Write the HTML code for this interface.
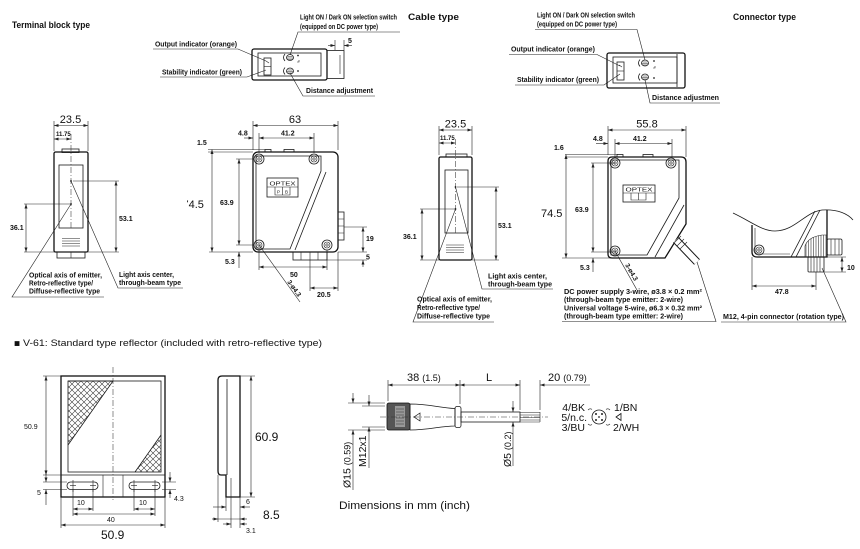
<!DOCTYPE html>
<html><head><meta charset="utf-8">
<style>
html,body{margin:0;padding:0;background:#fff;width:860px;height:549px;overflow:hidden}
svg{display:block}
text{font-family:"Liberation Sans",Arial,sans-serif;fill:#111}
.s{font-size:7px}
.sb{font-size:7px;font-weight:bold}
.m{font-size:11px}
.d{stroke:#222;stroke-width:.6;fill:none}
.o{stroke:#111;stroke-width:1.3;fill:none}
.n{stroke:#1a1a1a;stroke-width:.8;fill:none}
.cl{stroke:#333;stroke-width:.55;fill:none;stroke-dasharray:6,2,1,2}
</style></head><body>
<svg width="860" height="549" viewBox="0 0 860 549" xmlns="http://www.w3.org/2000/svg">
<defs>
<marker id="a" viewBox="0 0 6 4" refX="6" refY="2" markerWidth="5" markerHeight="3" markerUnits="userSpaceOnUse" orient="auto-start-reverse"><path d="M0,0L6,2L0,4z" fill="#222"/></marker>
<pattern id="hx" width="6" height="6" patternUnits="userSpaceOnUse"><path d="M0,0L6,6M6,0L0,6" stroke="#333" stroke-width="0.55"/></pattern>
<pattern id="vh" width="2.5" height="4" patternUnits="userSpaceOnUse"><path d="M1,0V4" stroke="#333" stroke-width="0.6"/></pattern>
<clipPath id="c1"><rect x="187" y="190" width="30" height="25"/></clipPath>
<clipPath id="t1"><path d="M68,381L113,381L68,445Z"/></clipPath>
<clipPath id="t2"><path d="M161,435L161,472L135,472Z"/></clipPath>
</defs>

<!-- ================= TERMINAL BLOCK TYPE ================= -->
<text x="12" y="28" font-size="9" font-weight="bold" textLength="78" lengthAdjust="spacingAndGlyphs">Terminal block type</text>
<text x="300" y="19.5" class="sb" textLength="97" lengthAdjust="spacingAndGlyphs">Light ON / Dark ON selection switch</text>
<text x="300" y="29" class="sb" textLength="78" lengthAdjust="spacingAndGlyphs">(equipped on DC power type)</text>
<polyline class="d" points="400,32 298,32 290,55"/>
<text x="155" y="46.5" class="sb" textLength="82" lengthAdjust="spacingAndGlyphs">Output indicator (orange)</text>
<polyline class="d" points="153,49 238,49 266,61"/>
<text x="162" y="74.5" class="sb" textLength="80" lengthAdjust="spacingAndGlyphs">Stability indicator (green)</text>
<polyline class="d" points="160,77 247,77 266,70"/>
<text x="306" y="93" class="sb" textLength="67" lengthAdjust="spacingAndGlyphs">Distance adjustment</text>
<polyline class="d" points="375,96 303,96 290,73"/>
<!-- top device -->
<rect x="252" y="49" width="75" height="31" rx="2" class="o"/>
<rect x="327" y="50.5" width="17" height="28" class="n"/>
<line x1="340" y1="55" x2="340" y2="74" class="d"/>
<rect x="258" y="53" width="63" height="23" class="n"/>
<rect x="264" y="58" width="7" height="17" class="n"/>
<line x1="264" y1="66.5" x2="271" y2="66.5" class="d"/>
<line x1="266" y1="61" x2="269" y2="63" class="d"/>
<ellipse cx="290" cy="57.5" rx="3.5" ry="3" class="n"/>
<path class="d" d="M287.5,56.5H292.5M287,58H293M287.5,59.5H292.5"/>
<ellipse cx="290" cy="71" rx="3.5" ry="3" class="n"/>
<path class="d" d="M287.5,70H292.5M287,71.5H293M287.5,73H292.5"/>
<path class="n" d="M285,54Q282,57.5 285,61M285,67.5Q282,71 285,74.5"/>
<circle cx="298" cy="55.5" r="0.9" fill="#222"/>
<path class="d" d="M297,62H299V60"/>
<circle cx="298" cy="71" r="0.9" fill="#222"/>
<!-- dim 5 -->
<text x="348" y="43" class="sb">5</text>
<path class="d" d="M335,40V50M344,40V50"/>
<line class="d" x1="328" y1="45.5" x2="335" y2="45.5" marker-end="url(#a)"/>
<line class="d" x1="352" y1="45.5" x2="344" y2="45.5" marker-end="url(#a)"/>

<!-- side view terminal -->
<text x="70.5" y="123" class="m" text-anchor="middle">23.5</text>
<line class="d" x1="54" y1="125.5" x2="88" y2="125.5" marker-start="url(#a)" marker-end="url(#a)"/>
<path class="d" d="M54,121V151M88,121V151"/>
<text x="56" y="136" font-size="6" font-weight="bold">11.75</text>
<line class="d" x1="54" y1="139" x2="71" y2="139" marker-start="url(#a)" marker-end="url(#a)"/>
<rect x="62" y="149" width="17" height="3.5" class="n"/>
<rect x="54" y="152" width="34" height="100" rx="1.5" class="o"/>
<rect x="57" y="252" width="28" height="6" class="n"/>
<line x1="71" y1="252" x2="71" y2="258" class="d"/>
<rect x="59" y="165" width="24" height="63" class="n"/>
<line x1="71" y1="134" x2="71" y2="228" class="cl"/>
<path class="d" d="M62,238.5H80M62,241H80M62,243.5H80M62,246H80"/>
<circle cx="71" cy="181" r="0.9" fill="#111"/>
<circle cx="71" cy="204" r="0.9" fill="#111"/>
<path class="d" d="M73,181H119M24,252H119M24,204H70"/>
<line class="d" x1="116" y1="181" x2="116" y2="252" marker-start="url(#a)" marker-end="url(#a)"/>
<text x="119" y="221" class="sb">53.1</text>
<line class="d" x1="26" y1="204" x2="26" y2="252" marker-start="url(#a)" marker-end="url(#a)"/>
<text x="10" y="230" class="sb">36.1</text>
<polyline class="d" points="71,204 12,297 104,297"/>
<polyline class="d" points="71,181 118,288 183,288"/>
<text x="29" y="277.5" class="sb" textLength="73" lengthAdjust="spacingAndGlyphs">Optical axis of emitter,</text>
<text x="29" y="285.5" class="sb" textLength="64" lengthAdjust="spacingAndGlyphs">Retro-reflective type/</text>
<text x="29" y="293.5" class="sb" textLength="71" lengthAdjust="spacingAndGlyphs">Diffuse-reflective type</text>
<text x="119" y="277" class="sb" textLength="55" lengthAdjust="spacingAndGlyphs">Light axis center,</text>
<text x="119" y="285" class="sb" textLength="62" lengthAdjust="spacingAndGlyphs">through-beam type</text>

<!-- front view terminal -->
<text x="295" y="123" class="m" text-anchor="middle">63</text>
<line class="d" x1="253" y1="125.5" x2="338" y2="125.5" marker-start="url(#a)" marker-end="url(#a)"/>
<path class="d" d="M253,121V150M338,121V150"/>
<text x="238" y="135.5" class="sb">4.8</text>
<text x="281" y="135.5" class="sb">41.2</text>
<line class="d" x1="244" y1="138" x2="253" y2="138" marker-end="url(#a)"/>
<line class="d" x1="259" y1="138" x2="314" y2="138" marker-start="url(#a)" marker-end="url(#a)"/>
<path class="d" d="M259,133V153M314,133V153"/>
<text x="197" y="145" class="sb">1.5</text>
<path class="d" d="M208,149.5H265M208,152H253"/>
<text x="182.5" y="208" class="m" clip-path="url(#c1)">74.5</text>
<line class="d" x1="212" y1="149.5" x2="212" y2="252" marker-start="url(#a)" marker-end="url(#a)"/>
<text x="220" y="205" class="sb">63.9</text>
<line class="d" x1="239" y1="159" x2="239" y2="245" marker-start="url(#a)" marker-end="url(#a)"/>
<path class="d" d="M236,159H254M236,245H254M209,252H253"/>
<text x="225" y="264" class="sb">5.3</text>
<line class="d" x1="239" y1="268" x2="239" y2="252" marker-end="url(#a)"/>
<text x="290" y="277" class="sb">50</text>
<line class="d" x1="259" y1="267" x2="327" y2="267" marker-start="url(#a)" marker-end="url(#a)"/>
<path class="d" d="M259,250V270M327,250V270"/>
<text x="317" y="297" class="sb">20.5</text>
<line class="d" x1="310" y1="288" x2="338" y2="288" marker-start="url(#a)" marker-end="url(#a)"/>
<path class="d" d="M310,260V291M338,252V291"/>
<text x="366" y="241" class="sb">19</text>
<line class="d" x1="363" y1="227" x2="363" y2="252" marker-start="url(#a)" marker-end="url(#a)"/>
<path class="d" d="M344,227H367M338,252H367M327,260H367"/>
<text x="366" y="259.5" class="sb">5</text>
<line class="d" x1="363" y1="267" x2="363" y2="260" marker-end="url(#a)"/>
<rect x="265" y="149.5" width="6" height="2.5" class="n"/>
<rect x="284" y="149.5" width="10" height="2.5" class="n"/>
<rect x="253" y="152" width="85" height="100" rx="5" class="o"/>
<path class="n" d="M256,156H321V171L290,249H256Z"/>
<line class="n" x1="326" y1="172" x2="295" y2="250"/>
<g class="n">
<circle cx="259" cy="159" r="5"/><circle cx="314" cy="159" r="5"/><circle cx="259" cy="245" r="5"/><circle cx="327" cy="245" r="5"/>
</g>
<g class="d">
<circle cx="259" cy="159" r="3"/><circle cx="314" cy="159" r="3"/><circle cx="259" cy="245" r="3"/><circle cx="327" cy="245" r="3"/>
<circle cx="259" cy="159" r="1.2"/><circle cx="314" cy="159" r="1.2"/><circle cx="259" cy="245" r="1.2"/><circle cx="327" cy="245" r="1.2"/>
</g>
<rect x="267" y="178" width="31" height="19" class="n"/>
<line class="d" x1="267" y1="187" x2="298" y2="187"/>
<path class="d" d="M275,187V195H290V187M282.5,187V195"/>
<text x="282.5" y="185.5" font-size="5.5" text-anchor="middle" textLength="26" lengthAdjust="spacingAndGlyphs">OPTEX</text>
<text x="277" y="193.5" font-size="4.5">P</text>
<text x="285" y="193.5" font-size="4.5">B</text>
<rect x="338" y="212" width="6" height="28" class="n"/>
<path class="d" d="M338,219H344M338,226H344M338,233H344"/>
<rect x="293" y="252" width="34" height="8" class="n"/>
<path class="d" d="M301,252V260M310,252V260M318,252V260"/>
<line class="d" x1="259" y1="245" x2="300" y2="302"/>
<text transform="translate(287,282) rotate(54)" font-size="6.5" font-weight="bold">3-ø4.3</text>

<!-- ================= CABLE TYPE ================= -->
<text x="408" y="20" font-size="9" font-weight="bold" textLength="51" lengthAdjust="spacingAndGlyphs">Cable type</text>
<text x="537" y="17.5" class="sb" textLength="98" lengthAdjust="spacingAndGlyphs">Light ON / Dark ON selection switch</text>
<text x="537" y="26.5" class="sb" textLength="80" lengthAdjust="spacingAndGlyphs">(equipped on DC power type)</text>
<polyline class="d" points="535,29.5 637,29.5 645,60"/>
<text x="511" y="51.5" class="sb" textLength="84" lengthAdjust="spacingAndGlyphs">Output indicator (orange)</text>
<polyline class="d" points="509,54.5 597,54.5 620,66"/>
<text x="517" y="82" class="sb" textLength="82" lengthAdjust="spacingAndGlyphs">Stability indicator (green)</text>
<polyline class="d" points="515,85 604,85 620,74"/>
<text x="652" y="100" class="sb" textLength="67" lengthAdjust="spacingAndGlyphs">Distance adjustmen</text>
<polyline class="d" points="720,103 650,103 645,80"/>
<rect x="607" y="53" width="78" height="35" rx="2" class="o"/>
<rect x="613" y="57" width="64" height="26" class="n"/>
<line x1="677" y1="54" x2="677" y2="87" class="n"/>
<rect x="617" y="62" width="7" height="18" class="n"/>
<line x1="617" y1="71" x2="624" y2="71" class="d"/>
<line x1="619" y1="65" x2="622" y2="67" class="d"/>
<ellipse cx="645" cy="63" rx="3.5" ry="3" class="n"/>
<path class="d" d="M642.5,62H647.5M642,63.5H648M642.5,65H647.5"/>
<ellipse cx="645" cy="77" rx="3.5" ry="3" class="n"/>
<path class="d" d="M642.5,76H647.5M642,77.5H648M642.5,79H647.5"/>
<path class="n" d="M640,59.5Q637,63 640,66.5M640,73.5Q637,77 640,80.5"/>
<circle cx="654" cy="61" r="0.9" fill="#222"/>
<path class="d" d="M653,68H655V66"/>
<circle cx="654" cy="78" r="0.9" fill="#222"/>

<!-- side view cable -->
<text x="455.5" y="127.5" class="m" text-anchor="middle">23.5</text>
<line class="d" x1="439" y1="130" x2="472" y2="130" marker-start="url(#a)" marker-end="url(#a)"/>
<path class="d" d="M439,126V155M472,126V155"/>
<text x="440" y="140" font-size="6" font-weight="bold">11.75</text>
<line class="d" x1="439" y1="143" x2="455.5" y2="143" marker-start="url(#a)" marker-end="url(#a)"/>
<rect x="446" y="154" width="21" height="3" class="n"/>
<rect x="439" y="157" width="33" height="103" rx="1.5" class="o"/>
<rect x="445" y="170" width="23" height="63" class="n"/>
<line x1="455.5" y1="139" x2="455.5" y2="233" class="cl"/>
<path class="d" d="M446,245H464M446,247.5H464M446,250H464M446,252.5H464"/>
<circle cx="455.5" cy="187" r="0.9" fill="#111"/>
<circle cx="455.5" cy="209" r="0.9" fill="#111"/>
<path class="d" d="M420,209H455M420,260H439M457,187H499M472,260H499"/>
<line class="d" x1="422" y1="209" x2="422" y2="260" marker-start="url(#a)" marker-end="url(#a)"/>
<text x="403" y="239" class="sb">36.1</text>
<line class="d" x1="496" y1="187" x2="496" y2="260" marker-start="url(#a)" marker-end="url(#a)"/>
<text x="498" y="228" class="sb">53.1</text>
<polyline class="d" points="455.5,187 482,289 553,289"/>
<polyline class="d" points="455.5,209 413,322 494,322"/>
<text x="488" y="278.5" class="sb" textLength="59" lengthAdjust="spacingAndGlyphs">Light axis center,</text>
<text x="488" y="286.5" class="sb" textLength="64" lengthAdjust="spacingAndGlyphs">through-beam type</text>
<text x="417" y="301.5" class="sb" textLength="75" lengthAdjust="spacingAndGlyphs">Optical axis of emitter,</text>
<text x="417" y="310" class="sb" textLength="63" lengthAdjust="spacingAndGlyphs">Retro-reflective type/</text>
<text x="417" y="318.5" class="sb" textLength="73" lengthAdjust="spacingAndGlyphs">Diffuse-reflective type</text>

<!-- front view cable -->
<text x="647" y="127.5" class="m" text-anchor="middle">55.8</text>
<line class="d" x1="608" y1="130" x2="686" y2="130" marker-start="url(#a)" marker-end="url(#a)"/>
<path class="d" d="M608,126V155M686,126V157"/>
<text x="593" y="141" class="sb">4.8</text>
<text x="633" y="141" class="sb">41.2</text>
<line class="d" x1="596" y1="143.5" x2="608" y2="143.5" marker-end="url(#a)"/>
<line class="d" x1="615" y1="143.5" x2="672" y2="143.5" marker-start="url(#a)" marker-end="url(#a)"/>
<path class="d" d="M615,139V158M672,139V158"/>
<text x="554" y="150" class="sb">1.6</text>
<path class="d" d="M565,154.5H618M565,157H608"/>
<text x="541" y="217" class="m">74.5</text>
<line class="d" x1="566" y1="154.5" x2="566" y2="258" marker-start="url(#a)" marker-end="url(#a)"/>
<text x="575" y="212" class="sb">63.9</text>
<line class="d" x1="593" y1="163" x2="593" y2="252" marker-start="url(#a)" marker-end="url(#a)"/>
<path class="d" d="M591,163H615M591,252H615M562,258H612"/>
<text x="580" y="270" class="sb">5.3</text>
<line class="d" x1="593" y1="272" x2="593" y2="258" marker-end="url(#a)"/>
<rect x="617" y="154.5" width="6" height="2.5" class="n"/>
<rect x="643" y="154.5" width="10" height="2.5" class="n"/>
<path class="o" d="M612,157H681Q686,157 686,162V224L665,258H612Q608,258 608,254V161Q608,157 612,157Z"/>
<path class="n" d="M611,160H679V198L647,255H611Z"/>
<line class="n" x1="684" y1="205" x2="655" y2="257"/>
<g class="n"><circle cx="615" cy="163" r="5"/><circle cx="671" cy="163" r="5"/><circle cx="615" cy="251" r="5"/></g>
<g class="d"><circle cx="615" cy="163" r="3"/><circle cx="671" cy="163" r="3"/><circle cx="615" cy="251" r="3"/>
<circle cx="615" cy="163" r="1.2"/><circle cx="671" cy="163" r="1.2"/><circle cx="615" cy="251" r="1.2"/></g>
<rect x="623" y="185" width="32" height="17" class="n"/>
<line class="d" x1="623" y1="193" x2="655" y2="193"/>
<path class="d" d="M631,193V200H646V193M638.5,193V200"/>
<text x="639" y="191.5" font-size="5.5" text-anchor="middle" textLength="27" lengthAdjust="spacingAndGlyphs">OPTEX</text>
<!-- cable exit -->
<path d="M676,240L697,262" stroke="#111" stroke-width="8" fill="none"/>
<path d="M676,240L697,262" stroke="#fff" stroke-width="6" fill="none"/>
<path class="d" d="M674,243L681,236M677,246L684,239M680,249L687,242"/>
<line class="d" x1="615" y1="251" x2="637" y2="290"/>
<text transform="translate(625,265) rotate(60)" font-size="6.5" font-weight="bold">3-ø4.3</text>
<text x="564" y="294" class="sb" textLength="138" lengthAdjust="spacingAndGlyphs">DC power supply 3-wire, ø3.8 × 0.2 mm²</text>
<text x="564" y="302" class="sb" textLength="119" lengthAdjust="spacingAndGlyphs">(through-beam type emitter: 2-wire)</text>
<text x="564" y="310.5" class="sb" textLength="138" lengthAdjust="spacingAndGlyphs">Universal voltage 5-wire, ø6.3 × 0.32 mm²</text>
<text x="564" y="318.5" class="sb" textLength="119" lengthAdjust="spacingAndGlyphs">(through-beam type emitter: 2-wire)</text>
<polyline class="d" points="562,321.5 716,321.5 697,262"/>

<!-- ================= CONNECTOR TYPE ================= -->
<text x="733" y="20" font-size="9" font-weight="bold" textLength="63" lengthAdjust="spacingAndGlyphs">Connector type</text>
<path class="n" d="M733,213C752,222 762,231 775,231C795,231 805,212 822,210C838,209 848,214 853,220"/>
<path class="o" d="M752,225V252Q752,257 757,257H827V210"/>
<path class="d" d="M755,228V251Q755,254 758,254H790"/>
<line class="n" x1="815" y1="211" x2="791" y2="257"/>
<line class="n" x1="820" y1="210" x2="796" y2="257"/>
<circle cx="759" cy="250" r="5" class="n"/>
<circle cx="759" cy="250" r="3" class="d"/>
<circle cx="759" cy="250" r="1.2" class="d"/>
<path d="M805,257V246Q808,237 822,235H827V257Z" fill="url(#vh)" stroke="#222" stroke-width="0.6"/>
<rect x="808" y="257" width="16" height="15" rx="1" class="n"/>
<path class="d" d="M811,257V272M814,257V272M817,257V272M820,257V272"/>
<rect x="827" y="239" width="15" height="16" rx="1.5" class="n"/>
<path class="d" d="M831,239V255M835,239V255M839,239V255"/>
<text x="847" y="270" class="sb">10</text>
<line class="d" x1="842" y1="257" x2="842" y2="272" marker-start="url(#a)" marker-end="url(#a)"/>
<path class="d" d="M827,257H846M824,272H846"/>
<text x="775" y="294" class="sb">47.8</text>
<line class="d" x1="752" y1="286" x2="816" y2="286" marker-start="url(#a)" marker-end="url(#a)"/>
<path class="d" d="M752,257V290M816,272V290"/>
<text x="723" y="319" class="sb" textLength="121" lengthAdjust="spacingAndGlyphs">M12, 4-pin connector (rotation type)</text>
<polyline class="d" points="721,322 846,322 822,268"/>

<!-- ================= V-61 REFLECTOR ================= -->
<text x="14" y="346.5" font-size="10" font-family="DejaVu Sans, sans-serif">■</text>
<text x="23" y="346" font-size="9.5" textLength="299" lengthAdjust="spacingAndGlyphs">V-61: Standard type reflector (included with retro-reflective type)</text>
<rect x="61" y="376" width="104" height="121" class="o"/>
<rect x="68" y="381" width="93" height="91" class="n"/>
<line class="n" x1="61" y1="475" x2="165" y2="475"/>
<path class="d" d="M103,475V497M123,475V497"/>
<rect x="61" y="370" width="60" height="80" fill="url(#hx)" clip-path="url(#t1)"/>
<path class="n" d="M68,381L113,381L68,445"/>
<rect x="130" y="430" width="35" height="45" fill="url(#hx)" clip-path="url(#t2)"/>
<path class="n" d="M161,435L135,472"/>
<line class="cl" x1="113" y1="367" x2="113" y2="500"/>
<rect x="67" y="482" width="31" height="7.5" rx="3.7" class="n"/>
<rect x="129" y="482" width="31" height="7.5" rx="3.7" class="n"/>
<path class="d" d="M73,480V492M93,480V492M134,480V492M155,480V492M70,485.7H76M90,485.7H96M131,485.7H137M152,485.7H158"/>
<text x="24" y="429" class="s">50.9</text>
<line class="d" x1="46" y1="376" x2="46" y2="475" marker-start="url(#a)" marker-end="url(#a)"/>
<path class="d" d="M43,376H61M43,475H61M43,482H67M43,489.5H67"/>
<line class="d" x1="46" y1="470" x2="46" y2="482" marker-end="url(#a)"/>
<line class="d" x1="46" y1="505" x2="46" y2="489.5" marker-end="url(#a)"/>
<text x="37" y="495" class="s">5</text>
<path class="d" d="M162,482H176M162,489.5H176"/>
<line class="d" x1="170" y1="472" x2="170" y2="482" marker-end="url(#a)"/>
<line class="d" x1="170" y1="498" x2="170" y2="489.5" marker-end="url(#a)"/>
<text x="174" y="501" class="s">4.3</text>
<path class="d" d="M73,489V516M93,489V511M134,489V511M155,489V516M61,497V528M165,497V528"/>
<text x="77" y="505" class="s">10</text>
<line class="d" x1="73" y1="509" x2="93" y2="509" marker-start="url(#a)" marker-end="url(#a)"/>
<text x="139" y="505" class="s">10</text>
<line class="d" x1="134" y1="509" x2="155" y2="509" marker-start="url(#a)" marker-end="url(#a)"/>
<text x="107" y="522" class="s">40</text>
<line class="d" x1="73" y1="514" x2="155" y2="514" marker-start="url(#a)" marker-end="url(#a)"/>
<text x="101" y="539" font-size="12">50.9</text>
<line class="d" x1="61" y1="525" x2="165" y2="525" marker-start="url(#a)" marker-end="url(#a)"/>
<!-- side -->
<path class="o" d="M222,376H240V497H226V475H221Q218,475 218,471V380Q218,376 222,376Z"/>
<line class="n" x1="227" y1="379" x2="227" y2="475"/>
<path class="d" d="M218,475V522M226,497V511M231,478V528M240,497V528M240,376H255M240,497H255"/>
<text x="255" y="441" font-size="12">60.9</text>
<line class="d" x1="251" y1="376" x2="251" y2="497" marker-start="url(#a)" marker-end="url(#a)"/>
<text x="246" y="504" class="s">6</text>
<line class="d" x1="213" y1="507" x2="226" y2="507" marker-end="url(#a)"/>
<line class="d" x1="250" y1="507" x2="240" y2="507" marker-end="url(#a)"/>
<text x="263" y="519" font-size="12">8.5</text>
<line class="d" x1="212" y1="519" x2="218" y2="519" marker-end="url(#a)"/>
<line class="d" x1="247" y1="519" x2="240" y2="519" marker-end="url(#a)"/>
<line class="d" x1="218" y1="519" x2="240" y2="519"/>
<text x="246" y="533" class="s">3.1</text>
<line class="d" x1="223" y1="524" x2="231" y2="524" marker-end="url(#a)"/>
<line class="d" x1="247" y1="524" x2="240" y2="524" marker-end="url(#a)"/>

<!-- ================= CABLE CONNECTOR ================= -->
<text x="407" y="381" font-size="11">38 <tspan font-size="9">(1.5)</tspan></text>
<text x="486" y="381" font-size="11">L</text>
<text x="548" y="381" font-size="11">20 <tspan font-size="9">(0.79)</tspan></text>
<line class="d" x1="388" y1="385" x2="460" y2="385" marker-start="url(#a)" marker-end="url(#a)"/>
<line class="d" x1="460" y1="385" x2="520" y2="385" marker-start="url(#a)" marker-end="url(#a)"/>
<line class="d" x1="590" y1="385" x2="540" y2="385" marker-end="url(#a)"/>
<path class="d" d="M388,380V401M460,380V404M520,380V410M540,380V410"/>
<rect x="387" y="403" width="23" height="27" rx="2" fill="#555" stroke="#111" stroke-width="0.8"/>
<rect x="395" y="406" width="10" height="21" fill="#999"/>
<path d="M396,409H404M396,412H404M396,415H404M396,418H404M396,421H404M396,424H404" stroke="#333" stroke-width="0.6"/>
<path class="n" d="M410,404C430,404 440,408 455,408.5V426C440,426 430,430 410,430Z" fill="#fff"/>
<rect x="455" y="406.5" width="6" height="21" rx="2" class="n" fill="#fff"/>
<rect x="461" y="412" width="59" height="10" class="n" fill="#fff"/>
<path class="d" d="M520,412.5H540M520,415H540M520,417.5H540M520,420H540M520,422H540"/>
<line x1="540" y1="412" x2="540" y2="422" class="d"/>
<line class="cl" x1="380" y1="417" x2="548" y2="417"/>
<path d="M420,413L414,417L420,421Z" fill="none" stroke="#111" stroke-width="0.7"/>
<path class="d" d="M348,403H385M348,430H385M362,406H385M362,427H385"/>
<line class="d" x1="353" y1="393" x2="353" y2="403" marker-end="url(#a)"/>
<line class="d" x1="353" y1="490" x2="353" y2="430" marker-end="url(#a)"/>
<line class="d" x1="369" y1="395" x2="369" y2="406" marker-end="url(#a)"/>
<line class="d" x1="369" y1="468" x2="369" y2="427" marker-end="url(#a)"/>
<text transform="translate(350.5,488) rotate(-90)" font-size="10.5">Ø15 <tspan font-size="9">(0.59)</tspan></text>
<text transform="translate(366,467) rotate(-90)" font-size="10.5">M12x1</text>
<line class="d" x1="513" y1="401" x2="513" y2="412" marker-end="url(#a)"/>
<line class="d" x1="513" y1="466" x2="513" y2="422" marker-end="url(#a)"/>
<text transform="translate(511,467) rotate(-90)" font-size="10.5">Ø5 <tspan font-size="9">(0.2)</tspan></text>
<!-- pin diagram -->
<circle cx="599" cy="417" r="7" class="n"/>
<g fill="#222"><circle cx="596" cy="414" r="1"/><circle cx="602" cy="414" r="1"/><circle cx="596" cy="420" r="1"/><circle cx="602" cy="420" r="1"/><circle cx="599" cy="417" r="0.9"/></g>
<path class="d" d="M588,410Q590,408 592,409.5M606,409.5Q608,408 610,410M588,424Q590,426 592,424.5M606,424.5Q608,426 610,424"/>
<text x="585" y="411" font-size="10.5" text-anchor="end">4/BK</text>
<text x="587" y="421" font-size="10.5" text-anchor="end">5/n.c.</text>
<text x="585" y="431" font-size="10.5" text-anchor="end">3/BU</text>
<text x="614" y="411" font-size="10.5">1/BN</text>
<path d="M621,413.5L616,417L621,420.5Z" fill="none" stroke="#111" stroke-width="0.8"/>
<text x="613" y="431" font-size="10.5">2/WH</text>
<text x="339" y="509" font-size="11" textLength="131" lengthAdjust="spacingAndGlyphs">Dimensions in mm (inch)</text>
</svg>
</body></html>
